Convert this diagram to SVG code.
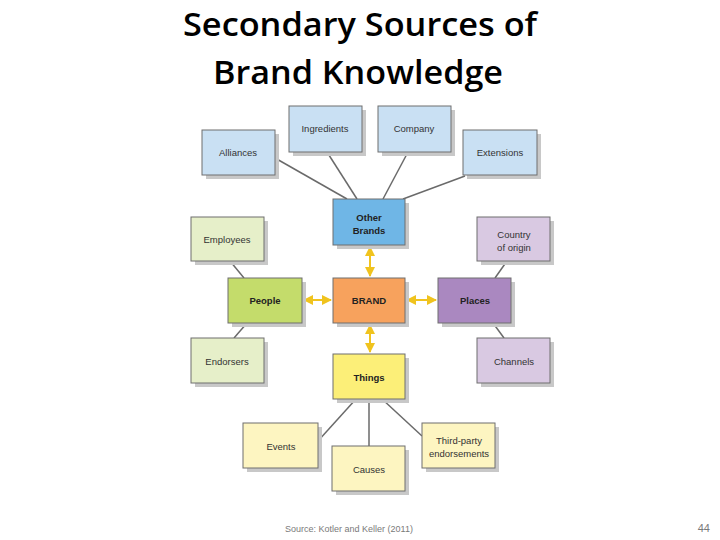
<svg xmlns="http://www.w3.org/2000/svg" width="720" height="540" viewBox="0 0 720 540">
<style>
.title{font-family:"Open Sans","Liberation Sans",sans-serif;font-size:33px;font-weight:600;fill:#000;text-anchor:middle}
.sh{fill:#c8c8c8}
.bx{stroke:#6e6e6e;stroke-width:1}
.t{font-family:"Liberation Sans","DejaVu Sans",sans-serif;font-size:9.5px;fill:#333;text-anchor:middle;dominant-baseline:central}
.b{font-weight:bold;fill:#222}
.lb{fill:#c9e0f3}.ob{fill:#6fb6e6}.br{fill:#f7a25d}.pe{fill:#c4dc6b}.pl{fill:#aa88c0}.th{fill:#fcef78}
.lg{fill:#e6efc9}.lp{fill:#d9c9e2}.ly{fill:#fdf5c1}
.ln{stroke:#6a6a6a;stroke-width:1.5;fill:none}
.ar{stroke:#f0c31e;stroke-width:2;fill:none;marker-start:url(#ah);marker-end:url(#ah)}
.foot{font-family:"Liberation Sans",sans-serif;fill:#7a7a7a}
</style>
<defs>
<marker id="ah" viewBox="0 0 10 10" refX="9" refY="5" markerWidth="5" markerHeight="5" orient="auto-start-reverse">
<path d="M0,0 L10,5 L0,10 z" fill="#f0c31e"/>
</marker>
</defs>
<rect width="720" height="540" fill="#fff"/>
<text class="title" x="360" y="36" textLength="354" lengthAdjust="spacingAndGlyphs">Secondary Sources of</text>
<text class="title" x="358" y="84" textLength="290" lengthAdjust="spacingAndGlyphs">Brand Knowledge</text>

<g id="connectors">
<line class="ln" x1="275" y1="158" x2="347" y2="199"/>
<line class="ln" x1="327" y1="152" x2="357" y2="199"/>
<line class="ln" x1="408" y1="152" x2="383" y2="199"/>
<line class="ln" x1="465" y1="176" x2="403" y2="199"/>
<line class="ln" x1="230" y1="261" x2="244" y2="278"/>
<line class="ln" x1="234" y1="338" x2="247" y2="323"/>
<line class="ln" x1="507" y1="261" x2="495" y2="278"/>
<line class="ln" x1="493" y1="323" x2="504" y2="338"/>
<line class="ln" x1="356" y1="399" x2="318" y2="441"/>
<line class="ln" x1="369" y1="399" x2="369" y2="446"/>
<line class="ln" x1="382" y1="399" x2="422" y2="436"/>
<line class="ar" x1="370" y1="247" x2="370" y2="276"/>
<line class="ar" x1="304" y1="300" x2="331" y2="300"/>
<line class="ar" x1="407" y1="300" x2="436" y2="300"/>
<line class="ar" x1="370" y1="325" x2="370" y2="352"/>
</g>

<g id="ingredients"><rect class="sh" x="293" y="110" width="73" height="46"/><rect class="bx lb" x="289" y="106" width="73" height="46"/><text class="t" x="325" y="128">Ingredients</text></g>
<g id="company"><rect class="sh" x="382" y="110" width="73" height="46"/><rect class="bx lb" x="378" y="106" width="73" height="46"/><text class="t" x="414" y="128">Company</text></g>
<g id="alliances"><rect class="sh" x="206" y="134" width="73" height="45"/><rect class="bx lb" x="202" y="130" width="73" height="45"/><text class="t" x="238" y="152">Alliances</text></g>
<g id="extensions"><rect class="sh" x="467" y="134" width="74" height="45"/><rect class="bx lb" x="463" y="130" width="74" height="45"/><text class="t" x="500" y="152">Extensions</text></g>
<g id="other-brands"><rect class="sh" x="337" y="203" width="72" height="46"/><rect class="bx ob" x="333" y="199" width="72" height="46"/><text class="t b" x="369" y="217">Other</text><text class="t b" x="369" y="230">Brands</text></g>
<g id="employees"><rect class="sh" x="195" y="221" width="73" height="44"/><rect class="bx lg" x="191" y="217" width="73" height="44"/><text class="t" x="227" y="239">Employees</text></g>
<g id="country"><rect class="sh" x="481" y="221" width="73" height="44"/><rect class="bx lp" x="477" y="217" width="73" height="44"/><text class="t" x="514" y="234">Country</text><text class="t" x="514" y="247">of origin</text></g>
<g id="people"><rect class="sh" x="232" y="282" width="74" height="45"/><rect class="bx pe" x="228" y="278" width="74" height="45"/><text class="t b" x="265" y="300">People</text></g>
<g id="brand"><rect class="sh" x="337" y="282" width="72" height="45"/><rect class="bx br" x="333" y="278" width="72" height="45"/><text class="t b" x="369" y="300">BRAND</text></g>
<g id="places"><rect class="sh" x="442" y="282" width="73" height="45"/><rect class="bx pl" x="438" y="278" width="73" height="45"/><text class="t b" x="475" y="300">Places</text></g>
<g id="endorsers"><rect class="sh" x="195" y="342" width="73" height="45"/><rect class="bx lg" x="191" y="338" width="73" height="45"/><text class="t" x="227" y="361">Endorsers</text></g>
<g id="channels"><rect class="sh" x="481" y="342" width="73" height="45"/><rect class="bx lp" x="477" y="338" width="73" height="45"/><text class="t" x="514" y="361">Channels</text></g>
<g id="things"><rect class="sh" x="337" y="358" width="72" height="45"/><rect class="bx th" x="333" y="354" width="72" height="45"/><text class="t b" x="369" y="377">Things</text></g>
<g id="events"><rect class="sh" x="247" y="427" width="75" height="45"/><rect class="bx ly" x="243" y="423" width="75" height="45"/><text class="t" x="281" y="446">Events</text></g>
<g id="causes"><rect class="sh" x="336" y="450" width="73" height="45"/><rect class="bx ly" x="332" y="446" width="73" height="45"/><text class="t" x="369" y="469">Causes</text></g>
<g id="third-party"><rect class="sh" x="426" y="427" width="73" height="45"/><rect class="bx ly" x="422" y="423" width="73" height="45"/><text class="t" x="459" y="440">Third-party</text><text class="t" x="459" y="453">endorsements</text></g>

<text class="foot" x="285" y="532" font-size="9">Source: Kotler and Keller (2011)</text>
<text class="foot" x="710" y="532" font-size="11" text-anchor="end">44</text>
</svg>
